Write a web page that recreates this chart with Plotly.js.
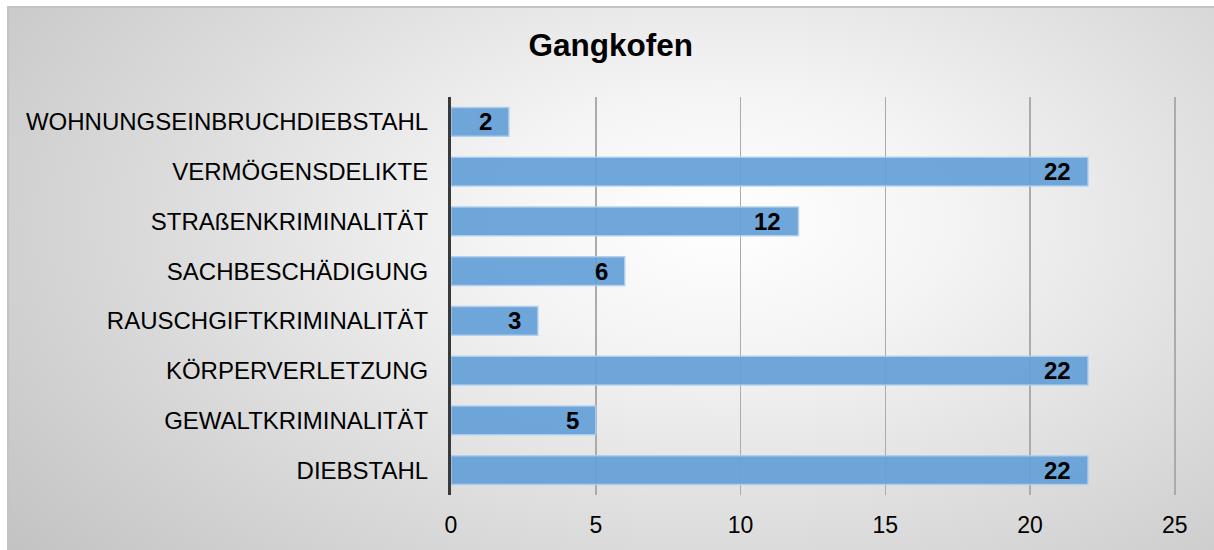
<!DOCTYPE html>
<html>
<head>
<meta charset="utf-8">
<script src="https://cdn.plot.ly/plotly-3.0.1.min.js"></script>
<style>
  html, body { margin: 0; padding: 0; background: #ffffff; }
  #bg {
    position: absolute; left: 7px; top: 6px; width: 1230px; height: 560px;
    border-top: 2px solid #c4c4c4; border-left: 2px solid #c4c4c4;
    background: radial-gradient(ellipse 75% 95% at 58% 38%, #ffffff 0%, #f4f4f4 25%, #dcdcdc 60%, #c2c2c2 100%);
  }
  #chart { position: absolute; left: 0; top: 0; width: 1214px; height: 550px; }
</style>
</head>
<body>
<div id="bg"></div>
<div id="chart"></div>
<script>
const categories = [
  "DIEBSTAHL",
  "GEWALTKRIMINALITÄT",
  "KÖRPERVERLETZUNG",
  "RAUSCHGIFTKRIMINALITÄT",
  "SACHBESCHÄDIGUNG",
  "STRAßENKRIMINALITÄT",
  "VERMÖGENSDELIKTE",
  "WOHNUNGSEINBRUCHDIEBSTAHL"
];
const values = [22, 5, 22, 3, 6, 12, 22, 2];
const xTicks = [0, 5, 10, 15, 20, 25];
const chartTitle = "Gangkofen";

const font = "Liberation Sans, Arial, sans-serif";

const trace = {
  type: "bar",
  orientation: "h",
  y: categories,
  x: values,
  width: 0.58,
  marker: {
    color: "rgba(100,160,215,0.92)",
    line: { color: "rgba(175,205,238,0.9)", width: 1.5 }
  },
  hoverinfo: "none"
};

const annotations = categories.map((c, i) => ({
  x: values[i], y: c, xref: "x", yref: "y",
  text: String(values[i]),
  showarrow: false, xanchor: "right", xshift: -15, yshift: 0,
  font: { family: font, size: 24, color: "#000000", weight: "bold" }
}));

const layout = {
  width: 1214, height: 550,
  paper_bgcolor: "rgba(0,0,0,0)",
  plot_bgcolor: "rgba(0,0,0,0)",
  margin: { l: 451, r: 38, t: 97, b: 55 },
  showlegend: false,
  title: {
    text: "<b>" + chartTitle + "</b>",
    x: 0.503, xanchor: "center", y: 0.918, yanchor: "middle",
    font: { family: font, size: 31.5, color: "#000000" }
  },
  xaxis: {
    range: [0, 25.04],
    tickvals: xTicks,
    ticktext: xTicks.map(String),
    showgrid: true, gridcolor: "#ababab", gridwidth: 1.5,
    zeroline: false, showline: false,
    ticks: "outside", ticklen: 9, tickcolor: "rgba(0,0,0,0)",
    tickfont: { family: font, size: 23, color: "#000000" },
    fixedrange: true
  },
  yaxis: {
    type: "category",
    categoryorder: "array", categoryarray: categories,
    range: [-0.5, categories.length - 0.5],
    showgrid: false, zeroline: false,
    showline: true, linecolor: "#3a3a3a", linewidth: 3,
    ticks: "outside", ticklen: 15, tickcolor: "rgba(0,0,0,0)",
    tickfont: { family: font, size: 24, color: "#000000" },
    fixedrange: true
  },
  annotations: annotations,
  bargap: 0.42
};

Plotly.newPlot("chart", [trace], layout, { displayModeBar: false, staticPlot: true });
</script>
</body>
</html>
